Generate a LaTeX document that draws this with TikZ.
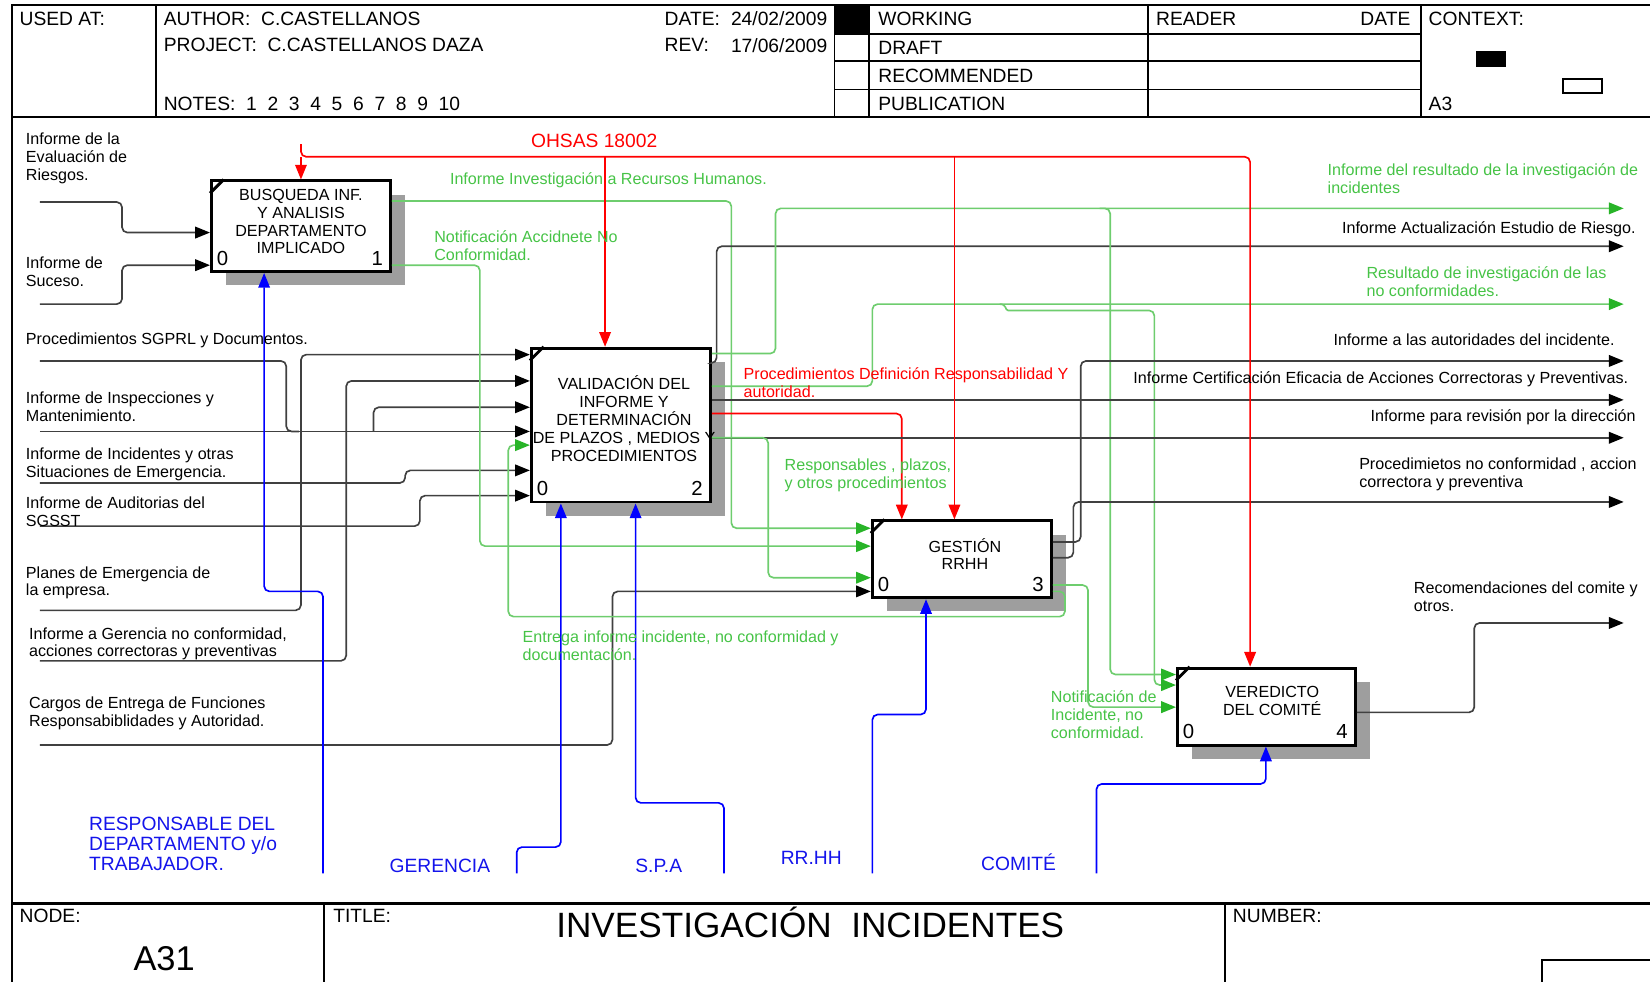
\documentclass[tikz,border=0pt]{standalone}
\usepackage{fontspec}
\setmainfont{Liberation Sans}
\usetikzlibrary{arrows.meta,shadows}
\definecolor{grline}{RGB}{110,205,110}
\definecolor{grtip}{RGB}{40,180,40}
\definecolor{grtext}{RGB}{70,195,70}
\definecolor{bltext}{RGB}{20,20,235}
\tikzset{
	actbox/.style={draw, line width=0.8pt, fill=white, minimum width=1.7cm, inner sep=0,
		drop shadow={shadow xshift=0.14cm, shadow yshift=-0.13cm, fill=black!38, opacity=1}},
	boxtxt/.style={inner sep=0, align=center, font=\fontsize{4.35}{4.85}\selectfont},
	num/.style={inner sep=0, font=\fontsize{5.5}{6}\selectfont},
	lbl/.style={inner sep=0, anchor=north west, align=left, yshift=0.55mm, font=\fontsize{4.35}{4.85}\selectfont},
	lblr/.style={lbl, anchor=north east, align=right},
	hdr/.style={inner sep=0, anchor=north west, align=left, yshift=0.65mm, font=\fontsize{5.2}{5.5}\selectfont},
	frame/.style={line width=0.5pt},
	cline/.style={black!75, line width=0.45pt, rounded corners=0.5mm},
	gline/.style={cline, draw=grline},
	rline/.style={cline, draw=red},
	bline/.style={cline, draw=blue},
	arr/.style={-{Triangle[length=1.4mm,width=1.1mm,color=black]}},
	garr/.style={-{Triangle[length=1.4mm,width=1.1mm,color=grtip]}},
	rarr/.style={-{Triangle[length=1.4mm,width=1.1mm,color=red]}},
	barr/.style={-{Triangle[length=1.4mm,width=1.1mm,color=blue]}}
}

\begin{document}
\begin{tikzpicture}[x=0.01cm, y=-0.01cm]
	\useasboundingbox (0,0) rectangle (1568,933);

	\draw[frame] (11,933) -- (11,5) -- (1568,5);
	\draw[frame] (11,111) -- (1568,111);
	\draw[line width=0.8pt] (11,859) -- (1568,859);
	\foreach \xx in {148,793,826,1091,1350}
		\draw[frame] (\xx,5) -- (\xx,111);
	\foreach \yy in {32,58,85}
		\draw[frame] (793,\yy) -- (1350,\yy);
	\fill (793,5) rectangle (826,32);
	\fill (1403,48) rectangle (1431,64);
	\draw[frame] (1485,75) rectangle (1522,88);
	\draw[frame] (308,859) -- (308,933);
	\draw[frame] (1164,859) -- (1164,933);
	\draw[frame] (1465,940) -- (1465,912) -- (1570,912);

	\node[hdr] (hUsed) at (18,17) {USED AT:};
	\node[hdr] (hAuthor) at (155,17) {AUTHOR:~~C.CASTELLANOS};
	\node[hdr] (hProject) at (155,42) {PROJECT:~~C.CASTELLANOS DAZA};
	\node[hdr] (hNotes) at (155,98) {NOTES:~~1~~2~~3~~4~~5~~6~~7~~8~~9~~10};
	\node[hdr] (hDate) at (631,17) {DATE:};
	\node[hdr] (hDateV) at (694,17) {24/02/2009};
	\node[hdr] (hRev) at (631,42) {REV:};
	\node[hdr] (hRevV) at (694,42) {17/06/2009};
	\node[hdr] (hWorking) at (834,17) {WORKING};
	\node[hdr] (hDraft) at (834,45) {DRAFT};
	\node[hdr] (hRecom) at (834,71) {RECOMMENDED};
	\node[hdr] (hPubl) at (834,98) {PUBLICATION};
	\node[hdr] (hReader) at (1098,17) {READER};
	\node[hdr, anchor=north east] (hRDate) at (1341,17) {DATE};
	\node[hdr] (hContext) at (1357,17) {CONTEXT:};
	\node[hdr] (hA3) at (1357,98) {A3};
	\node[hdr] (hNode) at (18,870) {NODE:};
	\node[hdr] (hTitle) at (316,870) {TITLE:};
	\node[hdr] (hNumber) at (1171,870) {NUMBER:};
	\node[inner sep=0, font=\fontsize{9.3}{10}\selectfont] (vNode) at (156,911) {A31};
	\node[inner sep=0, font=\fontsize{9.5}{10}\selectfont] (vTitle) at (770,877) {INVESTIGACIÓN~~INCIDENTES};

	\node[actbox, minimum height=0.86cm] (b1) at (286,215) {};
	\node[actbox, minimum height=1.46cm] (b2) at (590,404) {};
	\node[actbox, minimum height=0.73cm] (b3) at (914,531.5) {};
	\node[actbox, minimum width=1.69cm, minimum height=0.73cm] (b4) at (1203.5,671.5) {};
	\foreach \bb in {b1,b2,b3,b4}
		\draw[line width=0.8pt] ([yshift=-0.13cm]\bb.north west) -- ([xshift=0.13cm]\bb.north west);

	\node[boxtxt] (t1) at (286,210.5) {BUSQUEDA INF.\\Y ANALISIS\\DEPARTAMENTO\\IMPLICADO};
	\node[boxtxt] (t2) at (593,398) {VALIDACIÓN DEL\\INFORME Y\\DETERMINACIÓN\\DE PLAZOS , MEDIOS Y\\PROCEDIMIENTOS};
	\node[boxtxt] (t3) at (917,526.5) {GESTIÓN\\RRHH};
	\node[boxtxt] (t4) at (1209,666.5) {VEREDICTO\\DEL COMITÉ};
	\node[num] (n1a) at ([shift={(0.12cm,0.14cm)}]b1.south west) {0};
	\node[num] (n1b) at ([shift={(-0.14cm,0.14cm)}]b1.south east) {1};
	\node[num] (n2a) at ([shift={(0.12cm,0.14cm)}]b2.south west) {0};
	\node[num] (n2b) at ([shift={(-0.14cm,0.14cm)}]b2.south east) {2};
	\node[num] (n3a) at ([shift={(0.12cm,0.14cm)}]b3.south west) {0};
	\node[num] (n3b) at ([shift={(-0.14cm,0.14cm)}]b3.south east) {3};
	\node[num] (n4a) at ([shift={(0.12cm,0.14cm)}]b4.south west) {0};
	\node[num] (n4b) at ([shift={(-0.14cm,0.14cm)}]b4.south east) {4};

	\coordinate (eRiesgo) at (38,192);
	\coordinate (eSuceso) at (38,289);
	\coordinate (eProc) at (38,343);
	\coordinate (eInsp) at (38,410);
	\coordinate (jInsp) at (355,410);
	\coordinate (eIncid) at (38,459);
	\coordinate (eAudit) at (38,500);
	\coordinate (ePlanes) at (38,580);
	\coordinate (eGeren) at (38,628);
	\coordinate (eCargos) at (38,708);
	\coordinate (oResult) at (1543,198);
	\coordinate (jResult) at (1045,198);
	\coordinate (oRiesgo) at (1543,234);
	\coordinate (oNoConf) at (1543,289);
	\coordinate (jNoConf) at (950,289);
	\coordinate (oAutor) at (1543,343);
	\coordinate (oCertif) at (1543,380);
	\coordinate (oRevis) at (1543,416);
	\coordinate (oProcNC) at (1543,477);
	\coordinate (oRecom) at (1543,592);
	\coordinate (cOhsas) at (286,137);
	\coordinate (mResp) at (307,830);
	\coordinate (mGeren) at (491,830);
	\coordinate (mSpa) at (688,830);
	\coordinate (mRrhh) at (829,830);
	\coordinate (mComite) at (1042,830);

	\draw[cline,arr] (eRiesgo) -- (116,192) -- (116,221) -- (b1.west |- 0,221);
	\draw[cline,arr] (eSuceso) -- (116,289) -- (116,252) -- (b1.west |- 0,252);
	\draw[cline] (eProc) -- (272,343) -- (272,410) -- (284,410);
	\draw[cline,arr] (eInsp) -- (b2.west |- 0,410);
	\draw[cline,arr] (jInsp) -- (355,387) -- (b2.west |- 0,387);
	\draw[cline,arr] (ePlanes) -- (286,580) -- (286,337) -- (b2.west |- 0,337);
	\draw[cline,arr] (eGeren) -- (329,628) -- (329,362) -- (b2.west |- 0,362);
	\draw[cline,arr] (eIncid) -- (385,459) -- (385,447) -- (b2.west |- 0,447);
	\draw[cline,arr] (eAudit) -- (399,500) -- (399,471) -- (b2.west |- 0,471);
	\draw[cline,arr] (eCargos) -- (582,708) -- (582,562) -- (b3.west |- 0,562);

	\draw[gline,garr] (b1.east |- 0,191) -- (695,191) -- (695,502) -- (b3.west |- 0,502);
	\draw[gline,garr] (b1.east |- 0,252) -- (456,252) -- (456,519) -- (b3.west |- 0,519);

	\draw[cline,arr] (b2.east |- 0,345) -- (681,345) -- (681,234) -- (oRiesgo);
	\draw[gline,garr] (b2.east |- 0,336) -- (737,336) -- (737,198) -- (oResult);
	\draw[gline,garr] (jResult) -- (1055,198) -- (1055,641) -- (b4.west |- 0,641);
	\draw[gline,garr] (b2.east |- 0,367) -- (829,367) -- (829,289) -- (oNoConf);
	\draw[gline,garr] (jNoConf) .. controls (957,289) and (955,295) .. (963,295) -- (1097,295) -- (1097,651) -- (b4.west |- 0,651);
	\draw[cline,arr] (b2.east |- 0,380) -- (oCertif);
	\draw[rline,rarr] (b2.east |- 0,393) -- (857,393) -- (b3.north -| 857,0);
	\draw[cline,arr] (b2.east |- 0,416) -- (oRevis);
	\draw[gline,garr] (b2.east |- 0,416) -- (730,416) -- (730,549) -- (b3.west |- 0,549);

	\draw[cline,arr] (b3.east |- 0,515) -- (1027,515) -- (1027,343) -- (oAutor);
	\draw[cline,arr] (b3.east |- 0,530) -- (1020,530) -- (1020,477) -- (oProcNC);
	\draw[gline,garr] (b3.east |- 0,556) -- (1034,556) -- (1034,672) -- (b4.west |- 0,672);
	\draw[gline,garr] (b3.east |- 0,562) -- (1012,562) -- (1012,586) -- (483,586) -- (483,423) -- (b2.west |- 0,423);

	\draw[cline,arr] (b4.east |- 0,677) -- (1401,677) -- (1401,592) -- (oRecom);

	\draw[rline,rarr] (cOhsas) -- (286,149) -- (1188,149) -- (b4.north -| 1188,0);
	\draw[rline,rarr] (286,149) -- (b1.north);
	\draw[rline,rarr] (575,149) -- (b2.north -| 575,0);
	\draw[rline,rarr] (907,149) -- (b3.north -| 907,0);

	\draw[bline,barr] (mResp) -- (307,562) -- (251,562) -- (b1.south -| 251,0);
	\draw[bline,barr] (mGeren) -- (491,805) -- (533,805) -- (b2.south -| 533,0);
	\draw[bline,barr] (mSpa) -- (688,763) -- (604,763) -- (b2.south -| 604,0);
	\draw[bline,barr] (mRrhh) -- (829,679) -- (880,679) -- (b3.south -| 880,0);
	\draw[bline,barr] (mComite) -- (1042,745) -- (1203,745) -- (b4.south -| 1203,0);

	\node[lbl] (lRiesgo) at (24,131) {Informe de la\\Evaluación de\\Riesgos.};
	\node[lbl] (lSuceso) at (24,249) {Informe de\\Suceso.};
	\node[lbl] (lProc) at (24,321) {Procedimientos SGPRL y Documentos.};
	\node[lbl] (lInsp) at (24,377) {Informe de Inspecciones y\\Mantenimiento.};
	\node[lbl] (lIncid) at (24,430) {Informe de Incidentes y otras\\Situaciones de Emergencia.};
	\node[lbl] (lAudit) at (24,477) {Informe de Auditorias del\\SGSST};
	\node[lbl] (lPlanes) at (24,543) {Planes de Emergencia de\\la empresa.};
	\node[lbl] (lGeren) at (27,601) {Informe a Gerencia no conformidad,\\acciones correctoras y preventivas};
	\node[lbl] (lCargos) at (27,667) {Cargos de Entrega de Funciones\\Responsabiblidades y Autoridad.};
	\node[lbl, text=grtext] (lInvRH) at (427,169) {Informe Investigación a Recursos Humanos.};
	\node[lbl, text=grtext] (lNotif) at (412,224) {Notificación Accidnete No\\Conformidad.};
	\node[lbl, text=red] (lDefin) at (706,354) {Procedimientos Definición Responsabilidad Y\\autoridad.};
	\node[lbl, text=grtext] (lPlazos) at (745,441) {Responsables , plazos,\\y otros procedimientos};
	\node[lbl, text=grtext] (lEntrega) at (496,604) {Entrega informe incidente, no conformidad y\\documentación.};
	\node[lbl, text=grtext] (lNotifInc) at (998,661) {Notificación de\\Incidente, no\\conformidad.};
	\node[lbl, text=grtext] (lResult) at (1261,160) {Informe del resultado de la investigación de\\incidentes};
	\node[lblr] (lRiesgoO) at (1555,215) {Informe Actualización Estudio de Riesgo.};
	\node[lbl, text=grtext] (lNoConf) at (1298,258) {Resultado de investigación de las\\no conformidades.};
	\node[lblr] (lAutor) at (1535,322) {Informe a las autoridades del incidente.};
	\node[lblr] (lCertif) at (1548,358) {Informe Certificación Eficacia de Acciones Correctoras y Preventivas.};
	\node[lblr] (lRevis) at (1555,394) {Informe para revisión por la dirección};
	\node[lbl] (lProcNC) at (1291,440) {Procedimietos no conformidad , accion\\correctora y preventiva};
	\node[lbl] (lRecom) at (1343,558) {Recomendaciones del comite y\\otros.};

	\node[hdr, text=red] (lOhsas) at (504,133) {OHSAS 18002};
	\node[hdr, text=bltext, font=\fontsize{5.2}{5.5}\selectfont, align=left] (lResp) at (84,782) {RESPONSABLE DEL\\[-0.1pt]DEPARTAMENTO y/o\\[-0.1pt]TRABAJADOR.};
	\node[inner sep=0, text=bltext, font=\fontsize{5.2}{5.5}\selectfont] (lGeren) at (418,823) {GERENCIA};
	\node[inner sep=0, text=bltext, font=\fontsize{5.2}{5.5}\selectfont] (lSpa) at (626,823) {S.P.A};
	\node[inner sep=0, text=bltext, font=\fontsize{5.2}{5.5}\selectfont] (lRrhh) at (771,815) {RR.HH};
	\node[inner sep=0, text=bltext, font=\fontsize{5.2}{5.5}\selectfont] (lComite) at (968,819) {COMITÉ};
\end{tikzpicture}
\end{document}
